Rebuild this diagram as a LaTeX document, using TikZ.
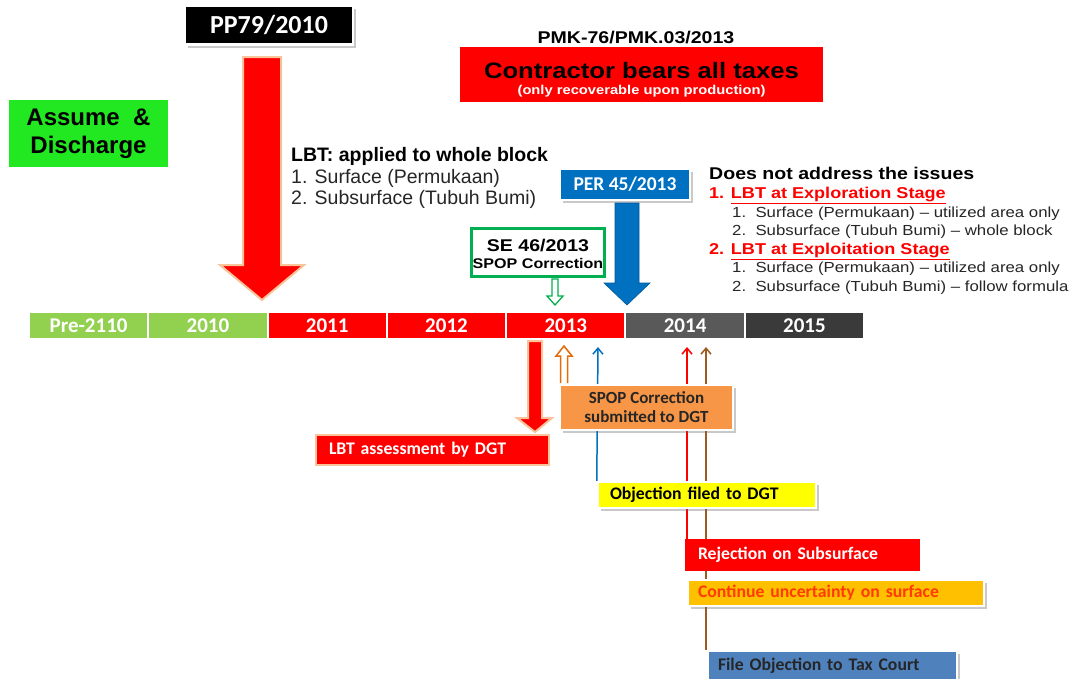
\documentclass[tikz,border=0pt]{standalone}
\usepackage{fontspec}
\setmainfont{Liberation Sans}
\newfontfamily\calfont{Carlito}
\newfontfamily\arfont{Liberation Sans}
\newfontfamily\arwfont[FakeStretch=1.15]{Liberation Sans}
\usetikzlibrary{shadows,arrows.meta}
\pgfdeclarelayer{back}
\pgfdeclarelayer{lines}
\pgfsetlayers{back,lines,main}
\definecolor{bargreen}{HTML}{92D050}
\definecolor{bargray}{HTML}{595959}
\definecolor{bardark}{HTML}{3A3A3A}
\definecolor{perblue}{HTML}{0070C0}
\definecolor{segreen}{HTML}{00B050}
\definecolor{assgreen}{HTML}{22E822}
\definecolor{spoporange}{HTML}{F79646}
\definecolor{objyellow}{HTML}{FFFF00}
\definecolor{contorange}{HTML}{FFC000}
\definecolor{conttext}{HTML}{FF3B00}
\definecolor{fileblue}{HTML}{4F81BD}
\definecolor{glow}{HTML}{F9C49A}
\definecolor{brownline}{HTML}{9E5B1F}
\definecolor{orangearrow}{HTML}{E46C0A}
\definecolor{txtgray}{HTML}{262626}
\begin{document}
\begin{tikzpicture}[x=1pt,y=-1pt,
  yearbar/.style={draw=white, line width=2pt, minimum width=119.3pt, minimum height=27pt, inner sep=0pt, text=white, font={\calfont\bfseries\fontsize{21}{24}\selectfont}},
  shbox/.style={draw=white, line width=2.5pt, drop shadow={shadow xshift=3pt, shadow yshift=-3pt, fill=black!60, opacity=0.35}},
  evbox/.style={inner ysep=0pt, align=left, font={\calfont\bfseries\fontsize{17.7}{20}\selectfont}},
  rtxt/.style={anchor=base west, inner sep=0pt},
  subtxt/.style={rtxt, text=txtgray, font={\arwfont\fontsize{14.6}{18}\selectfont}},
  thinarrow/.style={line width=1.5pt, -{Straight Barb[length=6pt,width=10pt]}},
  bigarrow/.style={draw=glow, line width=2pt, fill=red}
]
\begin{pgfonlayer}{back}
\fill[white] (0,0) rectangle (1074,678);
\end{pgfonlayer}
\useasboundingbox (0,0) rectangle (1074,678);

% ---- top left ----
\node[shbox, fill=black, minimum width=168pt, minimum height=39pt, inner sep=0pt, text=white,
      font={\calfont\bfseries\fontsize{26}{30}\selectfont}] (pp) at (269,25) {PP79/2010};
\draw[bigarrow] (243,57) -- (281,57) -- (281,265) -- (304,265) -- (262,300) -- (220,265) -- (243,265) -- cycle;
\node[fill=assgreen, minimum width=159pt, minimum height=67pt, inner sep=0pt, align=center,
      font={\arfont\bfseries\fontsize{24}{28}\selectfont}] (ad) at (88.5,133.5) {Assume \ \&\\Discharge};

\node[rtxt, font={\arfont\bfseries\fontsize{19.5}{22}\selectfont}] (lbt) at (291,161) {LBT: applied to whole block};
\node[rtxt, text=txtgray, font={\arfont\fontsize{19.5}{22}\selectfont}] (lbt1) at (291,183) {1. Surface (Permukaan)};
\node[rtxt, text=txtgray, font={\arfont\fontsize{19.5}{22}\selectfont}] (lbt2) at (291,204) {2. Subsurface (Tubuh Bumi)};

% ---- PMK ----
\node[anchor=base, inner sep=0pt, font={\arwfont\bfseries\fontsize{17}{20}\selectfont}] (pmk) at (636,43) {PMK-76/PMK.03/2013};
\node[fill=red, minimum width=363pt, minimum height=55pt, inner sep=0pt] (ctr) at (641.5,74.5) {};
\node[anchor=base, inner sep=0pt, font={\arwfont\bfseries\fontsize{22.3}{26}\selectfont}] (ct1) at (641.5,78) {Contractor bears all taxes};
\node[anchor=base, inner sep=0pt, text=white, font={\arwfont\bfseries\fontsize{12.8}{14}\selectfont}] (ct2) at (641.5,94.6) {(only recoverable upon production)};

% ---- PER / SE ----
\node[shbox, fill=perblue, minimum width=130pt, minimum height=31pt, inner sep=0pt, text=white,
      font={\calfont\bfseries\fontsize{19.5}{22}\selectfont}] (per) at (625,184.5) {PER 45/2013};
\draw[fill=perblue, draw=perblue!80!black, line width=0.6pt] (615,203) -- (639,203) -- (639,283) -- (650,283) -- (627,305) -- (604,283) -- (615,283) -- cycle;

\node[draw=segreen, line width=3pt, fill=white, minimum width=133pt, minimum height=48pt, inner sep=0pt] (se) at (538,252.5) {};
\node[anchor=base, inner sep=0pt, font={\arwfont\bfseries\fontsize{17}{20}\selectfont}] (se1) at (538,251) {SE 46/2013};
\node[anchor=base, inner sep=0pt, font={\arwfont\bfseries\fontsize{14}{16}\selectfont}] (se2) at (538,268) {SPOP Correction};
\draw[segreen, line width=1.3pt, fill=white] (552,279) -- (558,279) -- (558,296) -- (563,296) -- (555,305) -- (547,296) -- (552,296) -- cycle;

% ---- right text ----
\node[rtxt, font={\arwfont\bfseries\fontsize{17}{20}\selectfont}] (dna) at (709,179) {Does not address the issues};
\node[rtxt, text=red, font={\arwfont\bfseries\fontsize{15.7}{18}\selectfont}] (ex) at (709,198.6) {1. \underline{LBT at Exploration Stage}};
\node[subtxt] (ex1) at (732,217.4) {1.\ \ Surface (Permukaan) – utilized area only};
\node[subtxt] (ex2) at (732,235.4) {2.\ \ Subsurface (Tubuh Bumi) – whole block};
\node[rtxt, text=red, font={\arwfont\bfseries\fontsize{15.7}{18}\selectfont}] (et) at (709,254.6) {2. \underline{LBT at Exploitation Stage}};
\node[subtxt] (et1) at (732,272.4) {1.\ \ Surface (Permukaan) – utilized area only};
\node[subtxt] (et2) at (732,291.4) {2.\ \ Subsurface (Tubuh Bumi) – follow formula};

% ---- timeline ----
\node[yearbar, fill=bargreen] (y0) at (88.6,325.5) {Pre-2110};
\node[yearbar, fill=bargreen] (y1) at (207.9,325.5) {2010};
\node[yearbar, fill=red] (y2) at (327.2,325.5) {2011};
\node[yearbar, fill=red] (y3) at (446.5,325.5) {2012};
\node[yearbar, fill=red] (y4) at (565.8,325.5) {2013};
\node[yearbar, fill=bargray] (y5) at (685.1,325.5) {2014};
\node[yearbar, fill=bardark] (y6) at (804.4,325.5) {2015};

% ---- events below timeline ----
\draw[bigarrow] (528,341) -- (542,341) -- (542,418) -- (552,418) -- (535,432) -- (517,418) -- (528,418) -- cycle;
\node[fill=red, draw=glow, line width=2pt, minimum height=30pt, text width=207pt, inner xsep=13pt, evbox, text=white] (lbta) at (432.5,450) {LBT assessment by DGT};

\draw[orangearrow, line width=1.5pt, fill=white] (560.5,383) -- (560.5,356) -- (556,356) -- (564,346) -- (572,356) -- (567.5,356) -- (567.5,383);

\node[shbox, fill=spoporange, minimum width=173pt, minimum height=45pt, inner sep=0pt, align=center, text=txtgray,
      font={\calfont\bfseries\fontsize{17}{19}\selectfont}] (spop) at (646.5,407.5) {SPOP Correction\\submitted to DGT};
\node[shbox, fill=objyellow, minimum height=26pt, text width=194pt, inner xsep=12pt, evbox] (obj) at (707,495) {Objection filed to DGT};
\node[fill=red, minimum height=32pt, text width=209pt, inner xsep=13pt, evbox, text=white] (rej) at (802.5,555) {Rejection on Subsurface};
\node[shbox, fill=contorange, minimum height=26pt, text width=276pt, inner xsep=10pt, evbox, text=conttext] (cont) at (836,593) {Continue uncertainty on surface};
\node[shbox, fill=fileblue, minimum height=29pt, text width=229pt, inner xsep=10pt, evbox, text=txtgray] (fo) at (832.5,665.5) {File Objection to Tax Court};

\coordinate (tb) at (598,347);
\coordinate (tr) at (687,347);
\coordinate (tw) at (706,347);
\begin{pgfonlayer}{lines}
\draw[thinarrow, perblue] (obj.north west) -- (tb);
\draw[thinarrow, red] (rej.north -| tr) -- (tr);
\draw[thinarrow, brownline] (fo.north -| tw) -- (tw);
\end{pgfonlayer}
\end{tikzpicture}
\end{document}
